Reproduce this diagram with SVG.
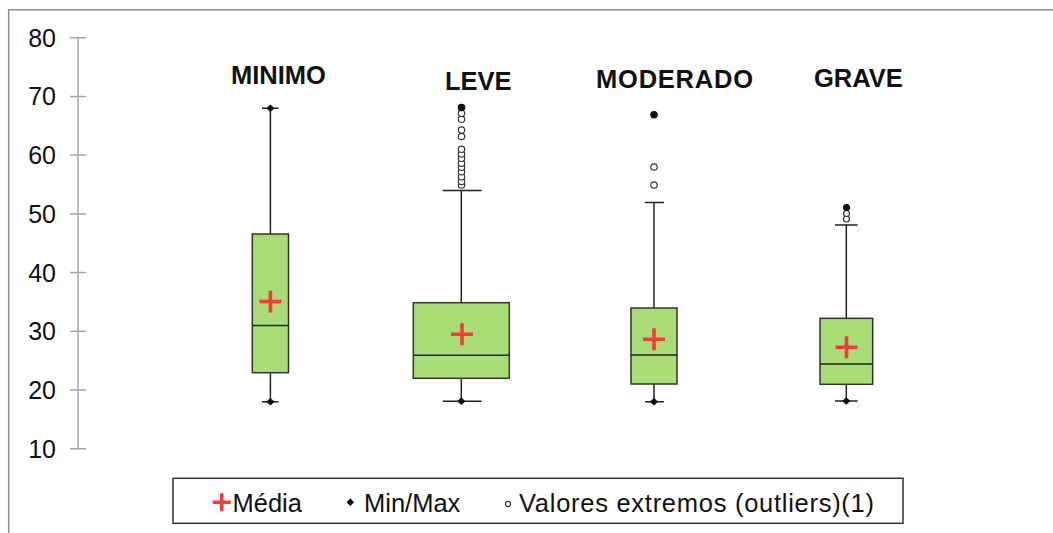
<svg xmlns="http://www.w3.org/2000/svg" width="1053" height="533" viewBox="0 0 1053 533">
<style>
.frame{fill:none;stroke:#8c8c8c;stroke-width:1.5}
.axis{stroke:#a6a6a6;stroke-width:1.5;fill:none}
.lbl{font-family:"Liberation Sans",Arial,sans-serif;font-size:25px;fill:#111;text-anchor:end}
.title{font-family:"Liberation Sans",Arial,sans-serif;font-size:25.5px;font-weight:bold;fill:#111}
.box{fill:#a9db76;stroke:#333;stroke-width:1.5}
.wh{stroke:#222;stroke-width:1.5;fill:none}
.med{stroke:#222;stroke-width:1.5}
.mean{stroke:#f53a3a;stroke-width:3.6;fill:none}
.dia{fill:#111}
.out{fill:#fff;stroke:#333;stroke-width:1.2}
.fill{fill:#111}
.leg{font-family:"Liberation Sans",Arial,sans-serif;font-size:25.5px;fill:#111}
.legbox{fill:#fff;stroke:#333;stroke-width:1.5}
</style>
<defs>
<path id="d" d="M0,-3.8 L4.2,0 L0,3.8 L-4.2,0 Z" class="dia"/>
<path id="p" d="M-11,0 H11 M0,-11 V11" class="mean"/>
</defs>
<rect width="1053" height="533" fill="#fff"/>
<path class="frame" d="M8.7,540 V9.7 H1060"/>
<g id="axis">
<path class="axis" d="M78,37.7 V448.7 M70,37.7 H86 M70,96.4 H86 M70,155.1 H86 M70,213.9 H86 M70,272.6 H86 M70,331.3 H86 M70,390 H86 M70,448.7 H86"/>
<text class="lbl" x="56" y="46.6">80</text>
<text class="lbl" x="56" y="105.3">70</text>
<text class="lbl" x="56" y="164">60</text>
<text class="lbl" x="56" y="222.8">50</text>
<text class="lbl" x="56" y="281.5">40</text>
<text class="lbl" x="56" y="340.2">30</text>
<text class="lbl" x="56" y="398.9">20</text>
<text class="lbl" x="56" y="457.6">10</text>
</g>
<g id="connectors">
<path class="wh" d="M270.4,108.2 V234 M270.4,372.7 V401.7 M262,108.2 H278.5 M262,401.7 H278.5"/>
<path class="wh" d="M461.3,190.4 V302.7 M461.3,378.3 V401.3 M442.7,190.4 H481.7 M442.7,401.3 H481.7"/>
<path class="wh" d="M654,202.4 V308 M654,384 V401.7 M645,202.4 H664 M645,401.7 H664"/>
<path class="wh" d="M846.3,225 V318.3 M846.3,384.3 V401 M835,225 H857.7 M835,401 H857.7"/>
</g>
<g id="minimo">
<text class="title" x="231" y="84">MINIMO</text>
<rect class="box" x="252.3" y="234" width="36.2" height="138.7"/>
<line class="med" x1="252.3" y1="325.6" x2="288.5" y2="325.6"/>
<use href="#p" x="270.4" y="301.5"/>
<use href="#d" x="270.4" y="108.2"/>
<use href="#d" x="270.4" y="401.7"/>
</g>
<g id="leve">
<text class="title" x="445" y="90">LEVE</text>
<rect class="box" x="413.3" y="302.7" width="96" height="75.6"/>
<line class="med" x1="413.3" y1="355.3" x2="509.3" y2="355.3"/>
<use href="#p" x="462" y="334.3"/>
<circle class="out" cx="461.5" cy="185" r="3.2"/>
<circle class="out" cx="461.5" cy="181.5" r="3.2"/>
<circle class="out" cx="461.5" cy="176.7" r="3.2"/>
<circle class="out" cx="461.5" cy="171.7" r="3.2"/>
<circle class="out" cx="461.5" cy="167.3" r="3.2"/>
<circle class="out" cx="461.5" cy="163.3" r="3.2"/>
<circle class="out" cx="461.5" cy="158.3" r="3.2"/>
<circle class="out" cx="461.5" cy="154" r="3.2"/>
<circle class="out" cx="461.5" cy="149.3" r="3.2"/>
<circle class="out" cx="461.5" cy="136.5" r="3.2"/>
<circle class="out" cx="461.5" cy="130" r="3.2"/>
<circle class="out" cx="461.5" cy="119.3" r="3.2"/>
<circle class="out" cx="461.5" cy="113.3" r="3.2"/>
<circle class="fill" cx="461.5" cy="107.5" r="3.8"/>
<use href="#d" x="461.3" y="401.3"/>
</g>
<g id="moderado">
<text class="title" x="596" y="88.3" textLength="157">MODERADO</text>
<rect class="box" x="631" y="308" width="46" height="76"/>
<line class="med" x1="631" y1="355" x2="677" y2="355"/>
<use href="#p" x="654" y="339.3"/>
<circle class="out" cx="654" cy="185" r="3.2"/>
<circle class="out" cx="654" cy="167" r="3.2"/>
<circle class="fill" cx="654" cy="114.7" r="3.8"/>
<use href="#d" x="654" y="401.7"/>
</g>
<g id="grave">
<text class="title" x="814" y="86.7">GRAVE</text>
<rect class="box" x="820" y="318.3" width="52.7" height="66"/>
<line class="med" x1="820" y1="364" x2="872.7" y2="364"/>
<use href="#p" x="846.5" y="347.3"/>
<circle class="out" cx="846.5" cy="219" r="3"/>
<circle class="out" cx="846.5" cy="213.5" r="3"/>
<circle class="fill" cx="846.5" cy="207.5" r="3.6"/>
<use href="#d" x="846.3" y="401"/>
</g>
<g id="legend">
<rect class="legbox" x="173" y="478.3" width="730" height="45"/>
<path d="M212.7,502.3 H230.7 M221.7,493.3 V511.3" class="mean" stroke-width="3.4"/>
<text class="leg" x="232.5" y="511.5">Média</text>
<path d="M350.3,498.3 L354,502.2 L350.3,506 L346.6,502.2 Z" class="dia"/>
<text class="leg" x="364" y="511.5">Min/Max</text>
<circle cx="508" cy="504" r="2.6" fill="#fff" stroke="#333" stroke-width="1.1"/>
<text class="leg" x="519" y="511.5" textLength="355" lengthAdjust="spacing">Valores extremos (outliers)(1)</text>
</g>
</svg>
